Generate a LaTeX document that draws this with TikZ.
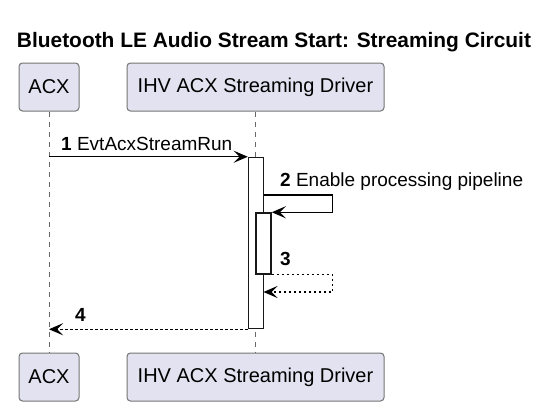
\documentclass[tikz,border=0pt]{standalone}
\usepackage{fontspec}
\setmainfont{Liberation Sans}
\usetikzlibrary{arrows.meta}
\definecolor{PartClr}{HTML}{E2E2F0}
\definecolor{EdgeClr}{HTML}{181818}

\begin{document}
\begin{tikzpicture}[x=1pt,y=-1pt,
  part/.style={draw=EdgeClr!60,line width=1pt,fill=PartClr,rounded corners=3.5pt,
    minimum height=48pt,inner sep=0pt,font=\fontsize{20}{24}\selectfont},
  life/.style={draw=EdgeClr!65,line width=1pt,dash pattern=on 5pt off 5pt},
  actbar/.style={draw=EdgeClr,line width=1.5pt,fill=white,minimum width=15pt,inner sep=0pt},
  msg/.style={draw=black,line width=1.3pt,-{Stealth[length=14pt,width=12pt,inset=6pt]}},
  ret/.style={msg,dash pattern=on 2.5pt off 2.5pt},
  lbl/.style={anchor=base west,inner sep=0pt,font=\fontsize{19}{22}\selectfont}]
\useasboundingbox (0,0) rectangle (555,407);

\node[anchor=base,font=\bfseries\fontsize{20.9}{24}\selectfont] (title) at (274,47)
  {Bluetooth LE Audio Stream Start: Streaming Circuit};

\node[part,minimum width=60pt] (acxTop) at (49,87) {ACX};
\node[part,minimum width=257pt] (drvTop) at (255.5,87) {IHV ACX Streaming Driver};
\node[part,minimum width=60pt] (acxBot) at (49,377) {ACX};
\node[part,minimum width=257pt] (drvBot) at (255.5,377) {IHV ACX Streaming Driver};

\draw[life] (acxTop) -- (acxBot);
\draw[life] (drvTop) -- (drvBot);

\node[actbar,minimum height=171pt] (actOuter) at (256,243) {};
\node[actbar,minimum height=61pt] (actInner) at (263.5,243.5) {};

\coordinate (out2) at (263.5,195);
\coordinate (in3) at (263.5,292);

\draw[msg] (acxTop |- actOuter.north west) -- (actOuter.north west);
\draw[msg] (out2) -- ++(69,0) |- (actInner.north east);
\draw[ret] (actInner.south east) -- ++(61,0) |- (in3);
\draw[ret] (actOuter.south west) -- (acxTop |- actOuter.south west);

\node[lbl] (lab1) at (61,150) {\textbf{1} EvtAcxStreamRun};
\node[lbl] (lab2) at (280,186.7) {\textbf{2} Enable processing pipeline};
\node[lbl] (lab3) at (280,265) {\textbf{3}};
\node[lbl] (lab4) at (75,321.7) {\textbf{4}};

\end{tikzpicture}
\end{document}
